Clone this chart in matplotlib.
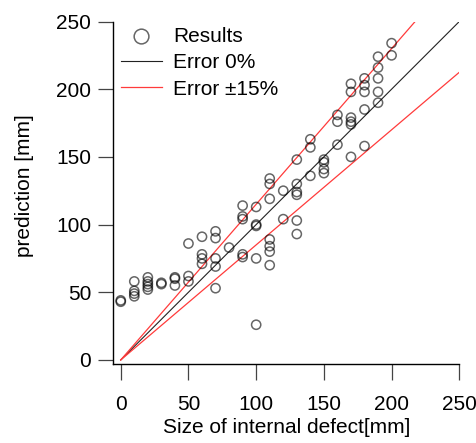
import numpy as np
import matplotlib.pyplot as plt

# ======================
# Data
# ======================
size_mm = [0, 0,
           10, 10, 10, 10,
           20, 20, 20, 20, 20,
           30, 30,
           40, 40, 40,
           50, 50, 50,
           60, 60, 60, 60,
           70, 70, 70, 70, 70,
           80,
           90, 90, 90, 90, 90,
           100, 100, 100, 100, 100,
           110, 110, 110, 110, 110, 110, 110,
           120, 120,
           130, 130, 130, 130, 130, 130,
           140, 140, 140,
           150, 150, 150, 150,
           160, 160, 160,
           170, 170, 170, 170, 170, 170,
           180, 180, 180, 180, 180,
           190, 190, 190, 190, 190,
           200, 200]
pred_mm = [43, 44,
           58, 51, 49, 47,
           61, 58, 56, 54, 52,
           57, 56,
           61, 60, 55,
           86, 62, 58,
           91, 78, 75, 71,
           95, 90, 75, 69, 53,
           83,
           114, 106, 104, 78, 76,
           113, 100, 99, 75, 26,
           134, 130, 119, 89, 84, 80, 70,
           125, 104,
           148, 130, 124, 122, 103, 93,
           163, 157, 136,
           148, 146, 141, 138,
           181, 176, 159,
           204, 198, 179, 176, 174, 150,
           208, 203, 198, 185, 158,
           224, 216, 208, 198, 190,
           234, 225]

err_band = 0.15
line_x = [0, 250]

plt.rcParams['font.family'] = ['Liberation Sans', 'DejaVu Sans']

fig = plt.figure(figsize=(4.77, 4.43), dpi=100)
ax = fig.add_axes([113.3 / 477, 79 / 443, 346 / 477, 342.5 / 443])

ax.scatter(size_mm, pred_mm, s=44, facecolors='none', edgecolors='black',
           linewidths=1.1, alpha=0.6, label='Results', zorder=3)
lx = np.array(line_x, dtype=float)
ax.plot(lx, lx, color='#222222', linewidth=0.8, label='Error 0%', zorder=2)
ax.plot(lx, lx * (1 + err_band), color='#ff3b3b', linewidth=0.9,
        label='Error \u00b115%', zorder=2)
ax.plot(lx, lx * (1 - err_band), color='#ff3b3b', linewidth=0.9, zorder=2)

ax.set_xlim(-5.5, 250)
ax.set_ylim(-3, 250)
ax.set_xticks([0, 50, 100, 150, 200, 250])
ax.set_yticks([0, 50, 100, 150, 200, 250])

for s in ['top', 'right']:
    ax.spines[s].set_visible(False)
for s in ['left', 'bottom']:
    ax.spines[s].set_linewidth(1.0)

ax.tick_params(axis='both', labelsize=15, length=11, width=0.9, color='#444444')
ax.tick_params(axis='y', pad=5)
ax.tick_params(axis='x', pad=11, length=11.5)

ax.set_xlabel('Size of internal defect[mm]', fontsize=15, labelpad=3)
ax.set_ylabel('prediction [mm]', fontsize=15)
ax.yaxis.set_label_coords(-0.228, 0.52)

ax.legend(loc='upper left', bbox_to_anchor=(120.7 / 477, 1 - 27 / 443),
          bbox_transform=fig.transFigure, frameon=False, fontsize=15,
          borderpad=0, borderaxespad=0, handlelength=2.0, handletextpad=0.5,
          labelspacing=0.35, markerscale=1.6)

plt.savefig('out.png', dpi=100)
